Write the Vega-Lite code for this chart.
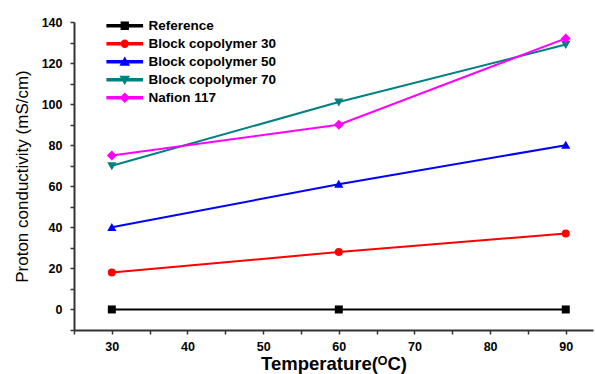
{
  "$schema": "https://vega.github.io/schema/vega-lite/v6.json",
  "width": 519,
  "height": 308,
  "autosize": {"type": "none"},
  "padding": {"left": 74, "top": 22, "right": 2, "bottom": 44},
  "background": "white",
  "config": {
    "view": {"stroke": null},
    "font": "Liberation Sans",
    "axis": {
      "domainColor": "#333333",
      "domainWidth": 2,
      "tickColor": "#333333",
      "tickWidth": 1.5,
      "tickSize": 4,
      "grid": false,
      "labelFont": "Liberation Sans",
      "labelFontWeight": "bold",
      "labelFontSize": 12.5,
      "labelColor": "black",
      "titleColor": "black",
      "titleFont": "Liberation Sans"
    },
    "legend": {
      "labelFont": "Liberation Sans",
      "labelFontWeight": "bold",
      "labelFontSize": 13.5,
      "labelColor": "black"
    }
  },
  "data": {
    "values": [
      {"series": "Reference", "t": 30, "v": 0},
      {"series": "Reference", "t": 60, "v": 0},
      {"series": "Reference", "t": 90, "v": 0},
      {"series": "Block copolymer 30", "t": 30, "v": 18},
      {"series": "Block copolymer 30", "t": 60, "v": 28},
      {"series": "Block copolymer 30", "t": 90, "v": 37},
      {"series": "Block copolymer 50", "t": 30, "v": 40},
      {"series": "Block copolymer 50", "t": 60, "v": 61},
      {"series": "Block copolymer 50", "t": 90, "v": 80},
      {"series": "Block copolymer 70", "t": 30, "v": 70},
      {"series": "Block copolymer 70", "t": 60, "v": 101},
      {"series": "Block copolymer 70", "t": 90, "v": 129},
      {"series": "Nafion 117", "t": 30, "v": 75},
      {"series": "Nafion 117", "t": 60, "v": 90},
      {"series": "Nafion 117", "t": 90, "v": 132}
    ]
  },
  "encoding": {
    "x": {
      "field": "t", "type": "quantitative",
      "scale": {"domain": [25, 93.6], "nice": false, "zero": false},
      "axis": {
        "values": [25, 30, 35, 40, 45, 50, 55, 60, 65, 70, 75, 80, 85, 90],
        "labelExpr": "datum.value % 10 === 0 ? datum.label : ''",
        "labelPadding": 6,
        "title": "Temperature(ᴼC)",
        "titleFontSize": 18.5,
        "titleFontWeight": "bold",
        "titlePadding": 2
      }
    },
    "y": {
      "field": "v", "type": "quantitative",
      "scale": {"domain": [-10, 140], "nice": false, "zero": false},
      "axis": {
        "values": [-10, 0, 10, 20, 30, 40, 50, 60, 70, 80, 90, 100, 110, 120, 130, 140],
        "labelExpr": "datum.value % 20 === 0 ? datum.label : ''",
        "labelPadding": 8,
        "title": "Proton conductivity (mS/cm)",
        "titleFontSize": 17,
        "titleFontWeight": "normal",
        "titlePadding": 10
      }
    }
  },
  "layer": [
    {
      "mark": {"type": "line", "strokeWidth": 2},
      "encoding": {
        "color": {
          "field": "series", "type": "nominal",
          "scale": {
            "domain": ["Reference", "Block copolymer 30", "Block copolymer 50", "Block copolymer 70", "Nafion 117"],
            "range": ["#000000", "#FF0000", "#0000FF", "#008080", "#FF00FF"]
          }
        }
      }
    },
    {
      "transform": [{"filter": "datum.series === 'Reference'"}],
      "mark": {"type": "point", "filled": true, "opacity": 1, "size": 64, "shape": "M-1,-1H1V1H-1Z"},
      "encoding": {"color": {"field": "series", "type": "nominal"}}
    },
    {
      "transform": [{"filter": "datum.series === 'Block copolymer 30'"}],
      "mark": {"type": "point", "filled": true, "opacity": 1, "size": 64, "shape": "circle"},
      "encoding": {"color": {"field": "series", "type": "nominal"}}
    },
    {
      "transform": [{"filter": "datum.series === 'Block copolymer 50'"}],
      "mark": {"type": "point", "filled": true, "opacity": 1, "size": 64, "shape": "M0,-1.1L1.15,0.9H-1.15Z"},
      "encoding": {"color": {"field": "series", "type": "nominal"}}
    },
    {
      "transform": [{"filter": "datum.series === 'Block copolymer 70'"}],
      "mark": {"type": "point", "filled": true, "opacity": 1, "size": 64, "shape": "M0,1.1L-1.15,-0.9H1.15Z"},
      "encoding": {"color": {"field": "series", "type": "nominal"}}
    },
    {
      "transform": [{"filter": "datum.series === 'Nafion 117'"}],
      "mark": {"type": "point", "filled": true, "opacity": 1, "size": 64, "shape": "M0,-1.25L1.25,0L0,1.25L-1.25,0Z"},
      "encoding": {"color": {"field": "series", "type": "nominal"}}
    },
    {
      "transform": [{"filter": "datum.t > 1000"}],
      "mark": {"type": "point", "filled": true, "opacity": 1, "size": 64},
      "encoding": {
        "color": {
          "field": "series", "type": "nominal",
          "legend": {
            "orient": "none",
            "legendX": 44,
            "legendY": -3,
            "title": null,
            "labelOffset": 17,
            "rowPadding": 3,
            "symbolSize": 64
          }
        },
        "shape": {
          "field": "series", "type": "nominal",
          "scale": {
            "domain": ["Reference", "Block copolymer 30", "Block copolymer 50", "Block copolymer 70", "Nafion 117"],
            "range": [
              "M-4.4,-0.22H-0.4V0.22H-4.4Z M0.4,-0.22H4.4V0.22H0.4Z M-0.85,-0.85H0.85V0.85H-0.85Z",
              "M-4.4,-0.22H-0.4V0.22H-4.4Z M0.4,-0.22H4.4V0.22H0.4Z M-0.85,0A0.85,0.85 0 1,1 0.85,0A0.85,0.85 0 1,1 -0.85,0Z",
              "M-4.4,-0.22H-0.4V0.22H-4.4Z M0.4,-0.22H4.4V0.22H0.4Z M0,-0.95L1,0.8H-1Z",
              "M-4.4,-0.22H-0.4V0.22H-4.4Z M0.4,-0.22H4.4V0.22H0.4Z M0,0.95L-1,-0.8H1Z",
              "M-4.4,-0.22H-0.4V0.22H-4.4Z M0.4,-0.22H4.4V0.22H0.4Z M0,-1.05L1.05,0L0,1.05L-1.05,0Z"
            ]
          },
          "legend": {
            "orient": "none",
            "legendX": 44,
            "legendY": -3,
            "title": null,
            "labelOffset": 17,
            "rowPadding": 3,
            "symbolSize": 64
          }
        }
      }
    }
  ]
}
